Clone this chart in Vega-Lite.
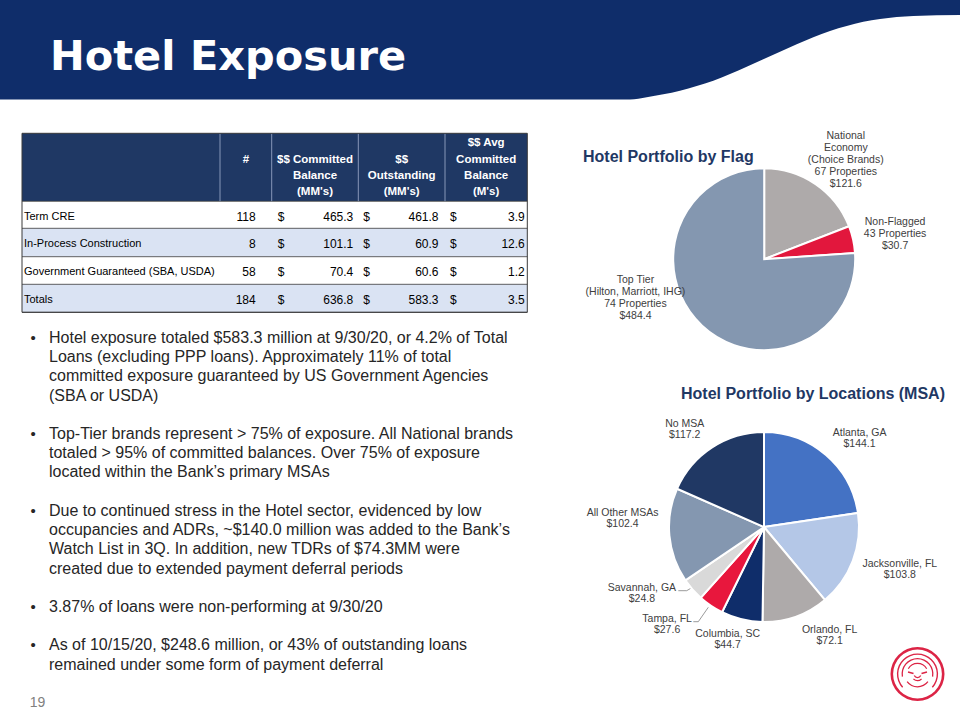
{
  "$schema": "https://vega.github.io/schema/vega-lite/v6.json",
  "width": 960,
  "height": 720,
  "autosize": {"type": "none"},
  "padding": 0,
  "background": "#ffffff",
  "config": {"view": {"stroke": null}, "text": {"font": "Liberation Sans"}},
  "resolve": {"scale": {"x": "independent", "y": "independent", "color": "independent", "theta": "independent"}},
  "datasets": {
    "wave": [
      {"x": 0, "y": 99.5}, {"x": 630, "y": 99.5}, {"x": 646.7, "y": 97.3}, {"x": 663.3, "y": 94.3},
      {"x": 680, "y": 90.7}, {"x": 696.7, "y": 86}, {"x": 713.3, "y": 80.7}, {"x": 730, "y": 74},
      {"x": 746.7, "y": 66.7}, {"x": 763.3, "y": 59.3}, {"x": 780, "y": 51.7}, {"x": 796.7, "y": 44.3},
      {"x": 813.3, "y": 37.3}, {"x": 830, "y": 31}, {"x": 846.7, "y": 26}, {"x": 863.3, "y": 21.7},
      {"x": 880, "y": 19}, {"x": 896.7, "y": 17}, {"x": 913.3, "y": 16}, {"x": 960, "y": 15}
    ],
    "bands": [
      {"r": 0, "r2": 1, "band": "head"},
      {"r": 1, "r2": 2, "band": "w"},
      {"r": 2, "r2": 3, "band": "b"},
      {"r": 3, "r2": 4, "band": "w"},
      {"r": 4, "r2": 5, "band": "b"}
    ],
    "heads": [
      {"cm": 1.5, "h": ["", "", "", "#"]},
      {"cm": 2.5, "h": ["", "$$ Committed", "Balance", "(MM's)"]},
      {"cm": 3.5, "h": ["", "$$", "Outstanding", "(MM's)"]},
      {"cm": 4.5, "h": ["$$ Avg", "Committed", "Balance", "(M's)"]}
    ],
    "rows": [
      {"r": 1, "label": "Term CRE", "n": "118", "cb": "465.3", "out": "461.8", "avg": "3.9"},
      {"r": 2, "label": "In-Process Construction", "n": "8", "cb": "101.1", "out": "60.9", "avg": "12.6"},
      {"r": 3, "label": "Government Guaranteed (SBA, USDA)", "n": "58", "cb": "70.4", "out": "60.6", "avg": "1.2"},
      {"r": 4, "label": "Totals", "n": "184", "cb": "636.8", "out": "583.3", "avg": "3.5"}
    ],
    "lines": [
      {"i": 0, "b": true, "t": "Hotel exposure totaled $583.3 million at 9/30/20, or 4.2% of Total"},
      {"i": 1, "b": false, "t": "Loans (excluding PPP loans).  Approximately 11% of total"},
      {"i": 2, "b": false, "t": "committed exposure guaranteed by US Government  Agencies"},
      {"i": 3, "b": false, "t": "(SBA or USDA)"},
      {"i": 5, "b": true, "t": "Top-Tier brands represent > 75% of exposure.  All National brands"},
      {"i": 6, "b": false, "t": "totaled > 95% of committed balances.  Over 75% of exposure"},
      {"i": 7, "b": false, "t": "located within the Bank’s primary MSAs"},
      {"i": 9, "b": true, "t": "Due to continued stress in the Hotel sector, evidenced by low"},
      {"i": 10, "b": false, "t": "occupancies and ADRs, ~$140.0 million was added to the Bank’s"},
      {"i": 11, "b": false, "t": "Watch List in 3Q.  In addition, new TDRs of $74.3MM were"},
      {"i": 12, "b": false, "t": "created due to extended payment deferral periods"},
      {"i": 14, "b": true, "t": "3.87% of loans were non-performing at 9/30/20"},
      {"i": 16, "b": true, "t": "As of 10/15/20, $248.6 million, or 43% of outstanding loans"},
      {"i": 17, "b": false, "t": "remained under some form of payment deferral"}
    ],
    "flag": [
      {"name": "National", "v": 121.6, "o": 1, "lab": ["National", "Economy", "(Choice Brands)", "67 Properties", "$121.6"]},
      {"name": "NonFlagged", "v": 30.7, "o": 2, "lab": ["Non-Flagged", "43 Properties", "$30.7"]},
      {"name": "TopTier", "v": 484.4, "o": 3, "lab": ["Top Tier", "(Hilton, Marriott, IHG)", "74 Properties", "$484.4"]}
    ],
    "msa": [
      {"name": "Atlanta", "v": 144.1, "o": 1, "lab": ["Atlanta, GA", "$144.1"]},
      {"name": "Jacksonville", "v": 103.8, "o": 2, "lab": ["Jacksonville, FL", "$103.8"]},
      {"name": "Orlando", "v": 72.1, "o": 3, "lab": ["Orlando, FL", "$72.1"]},
      {"name": "Columbia", "v": 44.7, "o": 4, "lab": ["Columbia,  SC", "$44.7"]},
      {"name": "Tampa", "v": 27.6, "o": 5, "lab": ["Tampa,  FL", "$27.6"]},
      {"name": "Savannah", "v": 24.8, "o": 6, "lab": ["Savannah, GA", "$24.8"]},
      {"name": "AllOther", "v": 102.4, "o": 7, "lab": ["All Other MSAs", "$102.4"]},
      {"name": "NoMSA", "v": 117.2, "o": 8, "lab": ["No MSA", "$117.2"]}
    ]
  },
  "layer": [
    {
      "layer": [
        {
          "data": {"name": "wave"},
          "mark": {"type": "area", "color": "#0f2d6a", "interpolate": "monotone"},
          "encoding": {
            "x": {"field": "x", "type": "quantitative", "scale": {"domain": [0, 960], "range": [0, 960], "nice": false, "zero": false}, "axis": null},
            "y": {"field": "y", "type": "quantitative", "scale": {"domain": [0, 720], "range": [0, 720], "nice": false, "zero": false}, "axis": null},
            "y2": {"datum": 0}
          }
        },
        {
          "data": {"values": [{"t": "Hotel Exposure"}]},
          "mark": {"type": "text", "align": "left", "baseline": "alphabetic", "font": "DejaVu Sans", "fontSize": 41.5, "fontWeight": "bold", "color": "#ffffff"},
          "encoding": {
            "x": {"datum": 50, "type": "quantitative", "scale": {"domain": [0, 960], "range": [0, 960], "nice": false, "zero": false}, "axis": null},
            "y": {"datum": 70, "type": "quantitative", "scale": {"domain": [0, 720], "range": [0, 720], "nice": false, "zero": false}, "axis": null},
            "text": {"field": "t", "type": "nominal"}
          }
        },
        {
          "data": {"values": [{"t": "Hotel Portfolio by Flag"}]},
          "mark": {"type": "text", "align": "left", "baseline": "alphabetic", "font": "Liberation Sans", "fontSize": 16, "fontWeight": "bold", "color": "#1f3864"},
          "encoding": {
            "x": {"datum": 583, "type": "quantitative", "scale": {"domain": [0, 960], "range": [0, 960], "nice": false, "zero": false}, "axis": null},
            "y": {"datum": 161.5, "type": "quantitative", "scale": {"domain": [0, 720], "range": [0, 720], "nice": false, "zero": false}, "axis": null},
            "text": {"field": "t", "type": "nominal"}
          }
        },
        {
          "data": {"values": [{"t": "Hotel Portfolio by Locations (MSA)"}]},
          "mark": {"type": "text", "align": "left", "baseline": "alphabetic", "font": "Liberation Sans", "fontSize": 16, "fontWeight": "bold", "color": "#1f3864"},
          "encoding": {
            "x": {"datum": 681, "type": "quantitative", "scale": {"domain": [0, 960], "range": [0, 960], "nice": false, "zero": false}, "axis": null},
            "y": {"datum": 399, "type": "quantitative", "scale": {"domain": [0, 720], "range": [0, 720], "nice": false, "zero": false}, "axis": null},
            "text": {"field": "t", "type": "nominal"}
          }
        },
        {
          "data": {"values": [{"k": "savannah-a"}]},
          "mark": {"type": "rule", "color": "#808080", "strokeWidth": 0.8},
          "encoding": {
            "x": {"datum": 678.3, "type": "quantitative", "scale": {"domain": [0, 960], "range": [0, 960], "nice": false, "zero": false}, "axis": null},
            "x2": {"datum": 686.7},
            "y": {"datum": 590.7, "type": "quantitative", "scale": {"domain": [0, 720], "range": [0, 720], "nice": false, "zero": false}, "axis": null},
            "y2": {"datum": 590.7}
          }
        },
        {
          "data": {"values": [{"k": "savannah-b"}]},
          "mark": {"type": "rule", "color": "#808080", "strokeWidth": 0.8},
          "encoding": {
            "x": {"datum": 686.7, "type": "quantitative", "scale": {"domain": [0, 960], "range": [0, 960], "nice": false, "zero": false}, "axis": null},
            "x2": {"datum": 691},
            "y": {"datum": 590.7, "type": "quantitative", "scale": {"domain": [0, 720], "range": [0, 720], "nice": false, "zero": false}, "axis": null},
            "y2": {"datum": 588.2}
          }
        },
        {
          "data": {"values": [{"k": "tampa-a"}]},
          "mark": {"type": "rule", "color": "#808080", "strokeWidth": 0.8},
          "encoding": {
            "x": {"datum": 693.3, "type": "quantitative", "scale": {"domain": [0, 960], "range": [0, 960], "nice": false, "zero": false}, "axis": null},
            "x2": {"datum": 698.3},
            "y": {"datum": 621.7, "type": "quantitative", "scale": {"domain": [0, 720], "range": [0, 720], "nice": false, "zero": false}, "axis": null},
            "y2": {"datum": 621.7}
          }
        },
        {
          "data": {"values": [{"k": "tampa-b"}]},
          "mark": {"type": "rule", "color": "#808080", "strokeWidth": 0.8},
          "encoding": {
            "x": {"datum": 698.3, "type": "quantitative", "scale": {"domain": [0, 960], "range": [0, 960], "nice": false, "zero": false}, "axis": null},
            "x2": {"datum": 708.3},
            "y": {"datum": 621.7, "type": "quantitative", "scale": {"domain": [0, 720], "range": [0, 720], "nice": false, "zero": false}, "axis": null},
            "y2": {"datum": 607.3}
          }
        },
        {
          "data": {"values": [{"t": "19"}]},
          "mark": {"type": "text", "align": "center", "baseline": "middle", "font": "Liberation Sans", "fontSize": 14, "color": "#808080"},
          "encoding": {
            "x": {"datum": 37.5, "type": "quantitative", "scale": {"domain": [0, 960], "range": [0, 960], "nice": false, "zero": false}, "axis": null},
            "y": {"datum": 703, "type": "quantitative", "scale": {"domain": [0, 720], "range": [0, 720], "nice": false, "zero": false}, "axis": null},
            "text": {"field": "t", "type": "nominal"}
          }
        },
        {
          "data": {"values": [{"k": "logo"}]},
          "encoding": {
            "x": {"datum": 917.5, "type": "quantitative", "scale": {"domain": [0, 960], "range": [0, 960], "nice": false, "zero": false}, "axis": null},
            "y": {"datum": 674, "type": "quantitative", "scale": {"domain": [0, 720], "range": [0, 720], "nice": false, "zero": false}, "axis": null}
          },
          "layer": [
            {"mark": {"type": "arc", "radius": 27, "innerRadius": 24.4, "color": "#dc2445"}, "encoding": {"theta": {"value": 0}, "theta2": {"value": 6.2832}}},
            {"mark": {"type": "arc", "radius": 20.6, "innerRadius": 19.2, "color": "#dc2445"}, "encoding": {"theta": {"value": -2.3}, "theta2": {"value": 2.3}}},
            {"mark": {"type": "arc", "radius": 16, "innerRadius": 14.7, "color": "#dc2445"}, "encoding": {"theta": {"value": -1.75}, "theta2": {"value": 1.75}}},
            {"mark": {"type": "arc", "radius": 11.2, "innerRadius": 10, "color": "#dc2445"}, "encoding": {"theta": {"value": -1.05}, "theta2": {"value": 1.05}}},
            {"mark": {"type": "arc", "radius": 13.5, "innerRadius": 12.2, "color": "#dc2445"}, "encoding": {"theta": {"value": 2.2}, "theta2": {"value": 4.08}}},
            {"mark": {"type": "arc", "radius": 7, "innerRadius": 5.8, "color": "#dc2445"}, "encoding": {"theta": {"value": 2.45}, "theta2": {"value": 3.83}}},
            {"mark": {"type": "arc", "radius": 4.2, "innerRadius": 2.9, "color": "#dc2445"}, "encoding": {"theta": {"value": 2.0}, "theta2": {"value": 4.28}}}
          ]
        },
        {
          "data": {"values": [{"k": "eye-l"}]},
          "mark": {"type": "rule", "color": "#dc2445", "strokeWidth": 1.4},
          "encoding": {
            "x": {"datum": 908, "type": "quantitative", "scale": {"domain": [0, 960], "range": [0, 960], "nice": false, "zero": false}, "axis": null},
            "x2": {"datum": 913.5},
            "y": {"datum": 672, "type": "quantitative", "scale": {"domain": [0, 720], "range": [0, 720], "nice": false, "zero": false}, "axis": null},
            "y2": {"datum": 673.5}
          }
        },
        {
          "data": {"values": [{"k": "eye-r"}]},
          "mark": {"type": "rule", "color": "#dc2445", "strokeWidth": 1.4},
          "encoding": {
            "x": {"datum": 921.5, "type": "quantitative", "scale": {"domain": [0, 960], "range": [0, 960], "nice": false, "zero": false}, "axis": null},
            "x2": {"datum": 927},
            "y": {"datum": 673.5, "type": "quantitative", "scale": {"domain": [0, 720], "range": [0, 720], "nice": false, "zero": false}, "axis": null},
            "y2": {"datum": 672}
          }
        }
      ]
    },
    {
      "layer": [
        {
          "data": {"name": "bands"},
          "mark": {"type": "rect"},
          "encoding": {
            "x": {"datum": 0, "type": "quantitative", "scale": {"domain": [0, 1, 2, 3, 4, 5], "range": [22, 220, 271.7, 358.3, 445, 527.3], "nice": false, "zero": false}, "axis": null},
            "x2": {"datum": 5},
            "y": {"field": "r", "type": "quantitative", "scale": {"domain": [0, 1, 2, 3, 4, 5], "range": [133.3, 201.3, 228.3, 256.7, 284.3, 312.3], "nice": false, "zero": false}, "axis": null},
            "y2": {"field": "r2"},
            "color": {"field": "band", "type": "nominal", "scale": {"domain": ["head", "w", "b"], "range": ["#1f3864", "#ffffff", "#dae3f3"]}, "legend": null}
          }
        },
        {
          "data": {"name": "bands"},
          "mark": {"type": "rule", "color": "#3a3a3a", "strokeWidth": 0.8},
          "encoding": {
            "x": {"datum": 0, "type": "quantitative", "scale": {"domain": [0, 1, 2, 3, 4, 5], "range": [22, 220, 271.7, 358.3, 445, 527.3], "nice": false, "zero": false}, "axis": null},
            "x2": {"datum": 5},
            "y": {"field": "r2", "type": "quantitative", "scale": {"domain": [0, 1, 2, 3, 4, 5], "range": [133.3, 201.3, 228.3, 256.7, 284.3, 312.3], "nice": false, "zero": false}, "axis": null}
          }
        },
        {
          "data": {"values": [{"c": 1}, {"c": 2}, {"c": 3}, {"c": 4}]},
          "mark": {"type": "rule", "color": "#8797b8", "strokeWidth": 1},
          "encoding": {
            "x": {"field": "c", "type": "quantitative", "scale": {"domain": [0, 1, 2, 3, 4, 5], "range": [22, 220, 271.7, 358.3, 445, 527.3], "nice": false, "zero": false}, "axis": null},
            "y": {"datum": 0, "type": "quantitative", "scale": {"domain": [0, 1, 2, 3, 4, 5], "range": [133.3, 201.3, 228.3, 256.7, 284.3, 312.3], "nice": false, "zero": false}, "axis": null},
            "y2": {"datum": 1}
          }
        },
        {
          "data": {"values": [{"k": 1}]},
          "mark": {"type": "rect", "fillOpacity": 0, "stroke": "#3a3a3a", "strokeWidth": 1},
          "encoding": {
            "x": {"datum": 0, "type": "quantitative", "scale": {"domain": [0, 1, 2, 3, 4, 5], "range": [22, 220, 271.7, 358.3, 445, 527.3], "nice": false, "zero": false}, "axis": null},
            "x2": {"datum": 5},
            "y": {"datum": 0, "type": "quantitative", "scale": {"domain": [0, 1, 2, 3, 4, 5], "range": [133.3, 201.3, 228.3, 256.7, 284.3, 312.3], "nice": false, "zero": false}, "axis": null},
            "y2": {"datum": 5}
          }
        },
        {
          "data": {"name": "heads"},
          "mark": {"type": "text", "align": "center", "baseline": "middle", "dy": 10, "lineHeight": 16.4, "font": "Liberation Sans", "fontSize": 11.5, "fontWeight": "bold", "color": "#ffffff"},
          "encoding": {
            "x": {"field": "cm", "type": "quantitative", "scale": {"domain": [0, 1, 2, 3, 4, 5], "range": [22, 220, 271.7, 358.3, 445, 527.3], "nice": false, "zero": false}, "axis": null},
            "y": {"datum": 0, "type": "quantitative", "scale": {"domain": [0, 1, 2, 3, 4, 5], "range": [133.3, 201.3, 228.3, 256.7, 284.3, 312.3], "nice": false, "zero": false}, "axis": null},
            "text": {"field": "h", "type": "nominal"}
          }
        },
        {
          "data": {"name": "rows"},
          "encoding": {
            "y": {"field": "r", "type": "quantitative", "scale": {"domain": [0, 1, 2, 3, 4, 5], "range": [133.3, 201.3, 228.3, 256.7, 284.3, 312.3], "nice": false, "zero": false}, "axis": null}
          },
          "layer": [
            {
              "mark": {"type": "text", "align": "left", "baseline": "middle", "dx": 2, "dy": 15.5, "font": "Liberation Sans", "fontSize": 11, "color": "#000000"},
              "encoding": {
                "x": {"datum": 0, "type": "quantitative", "scale": {"domain": [0, 1, 2, 3, 4, 5], "range": [22, 220, 271.7, 358.3, 445, 527.3], "nice": false, "zero": false}, "axis": null},
                "text": {"field": "label", "type": "nominal"}
              }
            },
            {
              "mark": {"type": "text", "align": "right", "baseline": "middle", "dx": -16, "dy": 15.5, "font": "Liberation Sans", "fontSize": 12, "color": "#000000"},
              "encoding": {
                "x": {"datum": 2, "type": "quantitative", "scale": {"domain": [0, 1, 2, 3, 4, 5], "range": [22, 220, 271.7, 358.3, 445, 527.3], "nice": false, "zero": false}, "axis": null},
                "text": {"field": "n", "type": "nominal"}
              }
            },
            {
              "mark": {"type": "text", "align": "left", "baseline": "middle", "dx": 6, "dy": 15.5, "font": "Liberation Sans", "fontSize": 12, "color": "#000000", "text": "$"},
              "encoding": {
                "x": {"datum": 2, "type": "quantitative", "scale": {"domain": [0, 1, 2, 3, 4, 5], "range": [22, 220, 271.7, 358.3, 445, 527.3], "nice": false, "zero": false}, "axis": null}
              }
            },
            {
              "mark": {"type": "text", "align": "right", "baseline": "middle", "dx": -5, "dy": 15.5, "font": "Liberation Sans", "fontSize": 12, "color": "#000000"},
              "encoding": {
                "x": {"datum": 3, "type": "quantitative", "scale": {"domain": [0, 1, 2, 3, 4, 5], "range": [22, 220, 271.7, 358.3, 445, 527.3], "nice": false, "zero": false}, "axis": null},
                "text": {"field": "cb", "type": "nominal"}
              }
            },
            {
              "mark": {"type": "text", "align": "left", "baseline": "middle", "dx": 5, "dy": 15.5, "font": "Liberation Sans", "fontSize": 12, "color": "#000000", "text": "$"},
              "encoding": {
                "x": {"datum": 3, "type": "quantitative", "scale": {"domain": [0, 1, 2, 3, 4, 5], "range": [22, 220, 271.7, 358.3, 445, 527.3], "nice": false, "zero": false}, "axis": null}
              }
            },
            {
              "mark": {"type": "text", "align": "right", "baseline": "middle", "dx": -6.5, "dy": 15.5, "font": "Liberation Sans", "fontSize": 12, "color": "#000000"},
              "encoding": {
                "x": {"datum": 4, "type": "quantitative", "scale": {"domain": [0, 1, 2, 3, 4, 5], "range": [22, 220, 271.7, 358.3, 445, 527.3], "nice": false, "zero": false}, "axis": null},
                "text": {"field": "out", "type": "nominal"}
              }
            },
            {
              "mark": {"type": "text", "align": "left", "baseline": "middle", "dx": 5, "dy": 15.5, "font": "Liberation Sans", "fontSize": 12, "color": "#000000", "text": "$"},
              "encoding": {
                "x": {"datum": 4, "type": "quantitative", "scale": {"domain": [0, 1, 2, 3, 4, 5], "range": [22, 220, 271.7, 358.3, 445, 527.3], "nice": false, "zero": false}, "axis": null}
              }
            },
            {
              "mark": {"type": "text", "align": "right", "baseline": "middle", "dx": -2.5, "dy": 15.5, "font": "Liberation Sans", "fontSize": 12, "color": "#000000"},
              "encoding": {
                "x": {"datum": 5, "type": "quantitative", "scale": {"domain": [0, 1, 2, 3, 4, 5], "range": [22, 220, 271.7, 358.3, 445, 527.3], "nice": false, "zero": false}, "axis": null},
                "text": {"field": "avg", "type": "nominal"}
              }
            }
          ]
        }
      ]
    },
    {
      "data": {"name": "lines"},
      "layer": [
        {
          "mark": {"type": "text", "align": "left", "baseline": "middle", "font": "Liberation Sans", "fontSize": 16, "color": "#262626"},
          "encoding": {
            "x": {"datum": 1, "type": "quantitative", "scale": {"domain": [0, 1], "range": [33, 49], "nice": false, "zero": false}, "axis": null},
            "y": {"field": "i", "type": "quantitative", "scale": {"domain": [0, 19], "range": [338, 703], "nice": false, "zero": false}, "axis": null},
            "text": {"field": "t", "type": "nominal"}
          }
        },
        {
          "transform": [{"filter": "datum.b"}],
          "mark": {"type": "text", "align": "center", "baseline": "middle", "font": "Liberation Sans", "fontSize": 15, "color": "#262626", "text": "•"},
          "encoding": {
            "x": {"datum": 0, "type": "quantitative", "scale": {"domain": [0, 1], "range": [33, 49], "nice": false, "zero": false}, "axis": null},
            "y": {"field": "i", "type": "quantitative", "scale": {"domain": [0, 19], "range": [338, 703], "nice": false, "zero": false}, "axis": null}
          }
        }
      ]
    },
    {
      "data": {"name": "flag"},
      "encoding": {
        "x": {"datum": 0, "type": "quantitative", "scale": {"domain": [-1, 1], "range": [673.2, 855.2], "nice": false, "zero": false}, "axis": null},
        "y": {"datum": 0, "type": "quantitative", "scale": {"domain": [-1, 1], "range": [168.2, 350.2], "nice": false, "zero": false}, "axis": null},
        "theta": {"field": "v", "type": "quantitative", "stack": true},
        "order": {"field": "o", "type": "quantitative"}
      },
      "layer": [
        {
          "mark": {"type": "arc", "radius": 91, "stroke": "#ffffff", "strokeWidth": 2},
          "encoding": {"color": {"field": "name", "type": "nominal", "scale": {"domain": ["National", "NonFlagged", "TopTier"], "range": ["#aeaaaa", "#e2173d", "#8497b0"]}, "legend": null}}
        },
        {
          "mark": {"type": "text", "radius": 125, "dx": 11, "dy": -20, "align": "center", "baseline": "middle", "lineHeight": 12, "fontSize": 10.5, "font": "Liberation Sans", "color": "#404040"},
          "encoding": {"detail": {"field": "name", "type": "nominal"}, "text": {"condition": {"test": "datum.name === 'National'", "field": "lab", "type": "nominal"}, "value": ""}}
        },
        {
          "mark": {"type": "text", "radius": 130, "dx": 4, "dy": -9, "align": "center", "baseline": "middle", "lineHeight": 12, "fontSize": 10.5, "font": "Liberation Sans", "color": "#404040"},
          "encoding": {"detail": {"field": "name", "type": "nominal"}, "text": {"condition": {"test": "datum.name === 'NonFlagged'", "field": "lab", "type": "nominal"}, "value": ""}}
        },
        {
          "mark": {"type": "text", "radius": 130, "dx": -40, "dy": -74, "align": "center", "baseline": "middle", "lineHeight": 12, "fontSize": 10.5, "font": "Liberation Sans", "color": "#404040"},
          "encoding": {"detail": {"field": "name", "type": "nominal"}, "text": {"condition": {"test": "datum.name === 'TopTier'", "field": "lab", "type": "nominal"}, "value": ""}}
        }
      ]
    },
    {
      "data": {"name": "msa"},
      "encoding": {
        "x": {"datum": 0, "type": "quantitative", "scale": {"domain": [-1, 1], "range": [669, 859], "nice": false, "zero": false}, "axis": null},
        "y": {"datum": 0, "type": "quantitative", "scale": {"domain": [-1, 1], "range": [432, 622], "nice": false, "zero": false}, "axis": null},
        "theta": {"field": "v", "type": "quantitative", "stack": true},
        "order": {"field": "o", "type": "quantitative"}
      },
      "layer": [
        {
          "mark": {"type": "arc", "radius": 95, "stroke": "#ffffff", "strokeWidth": 2},
          "encoding": {"color": {"field": "name", "type": "nominal", "scale": {"domain": ["Atlanta", "Jacksonville", "Orlando", "Columbia", "Tampa", "Savannah", "AllOther", "NoMSA"], "range": ["#4472c4", "#b4c7e7", "#aeaaaa", "#0f2d6a", "#e8173d", "#d9d9d9", "#8497b0", "#203864"]}, "legend": null}}
        },
        {
          "mark": {"type": "text", "radius": 125, "dx": 14, "dy": 0.5, "align": "center", "baseline": "middle", "lineHeight": 11, "fontSize": 10.5, "font": "Liberation Sans", "color": "#404040"},
          "encoding": {"detail": {"field": "name", "type": "nominal"}, "text": {"condition": {"test": "datum.name === 'Atlanta'", "field": "lab", "type": "nominal"}, "value": ""}}
        },
        {
          "mark": {"type": "text", "radius": 125, "dx": 19, "dy": -7.5, "align": "center", "baseline": "middle", "lineHeight": 11, "fontSize": 10.5, "font": "Liberation Sans", "color": "#404040"},
          "encoding": {"detail": {"field": "name", "type": "nominal"}, "text": {"condition": {"test": "datum.name === 'Jacksonville'", "field": "lab", "type": "nominal"}, "value": ""}}
        },
        {
          "mark": {"type": "text", "radius": 125, "dx": 24, "dy": -14.5, "align": "center", "baseline": "middle", "lineHeight": 11, "fontSize": 10.5, "font": "Liberation Sans", "color": "#404040"},
          "encoding": {"detail": {"field": "name", "type": "nominal"}, "text": {"condition": {"test": "datum.name === 'Orlando'", "field": "lab", "type": "nominal"}, "value": ""}}
        },
        {
          "mark": {"type": "text", "radius": 125, "dx": -7, "dy": -14.5, "align": "center", "baseline": "middle", "lineHeight": 11, "fontSize": 10.5, "font": "Liberation Sans", "color": "#404040"},
          "encoding": {"detail": {"field": "name", "type": "nominal"}, "text": {"condition": {"test": "datum.name === 'Columbia'", "field": "lab", "type": "nominal"}, "value": ""}}
        },
        {
          "mark": {"type": "text", "radius": 125, "dx": -27, "dy": -11.5, "align": "center", "baseline": "middle", "lineHeight": 11, "fontSize": 10.5, "font": "Liberation Sans", "color": "#404040"},
          "encoding": {"detail": {"field": "name", "type": "nominal"}, "text": {"condition": {"test": "datum.name === 'Tampa'", "field": "lab", "type": "nominal"}, "value": ""}}
        },
        {
          "mark": {"type": "text", "radius": 125, "dx": -28, "dy": -21, "align": "center", "baseline": "middle", "lineHeight": 11, "fontSize": 10.5, "font": "Liberation Sans", "color": "#404040"},
          "encoding": {"detail": {"field": "name", "type": "nominal"}, "text": {"condition": {"test": "datum.name === 'Savannah'", "field": "lab", "type": "nominal"}, "value": ""}}
        },
        {
          "mark": {"type": "text", "radius": 125, "dx": -17, "dy": -25.5, "align": "center", "baseline": "middle", "lineHeight": 11, "fontSize": 10.5, "font": "Liberation Sans", "color": "#404040"},
          "encoding": {"detail": {"field": "name", "type": "nominal"}, "text": {"condition": {"test": "datum.name === 'AllOther'", "field": "lab", "type": "nominal"}, "value": ""}}
        },
        {
          "mark": {"type": "text", "radius": 125, "dx": -11, "dy": 2, "align": "center", "baseline": "middle", "lineHeight": 11, "fontSize": 10.5, "font": "Liberation Sans", "color": "#404040"},
          "encoding": {"detail": {"field": "name", "type": "nominal"}, "text": {"condition": {"test": "datum.name === 'NoMSA'", "field": "lab", "type": "nominal"}, "value": ""}}
        }
      ]
    }
  ]
}
